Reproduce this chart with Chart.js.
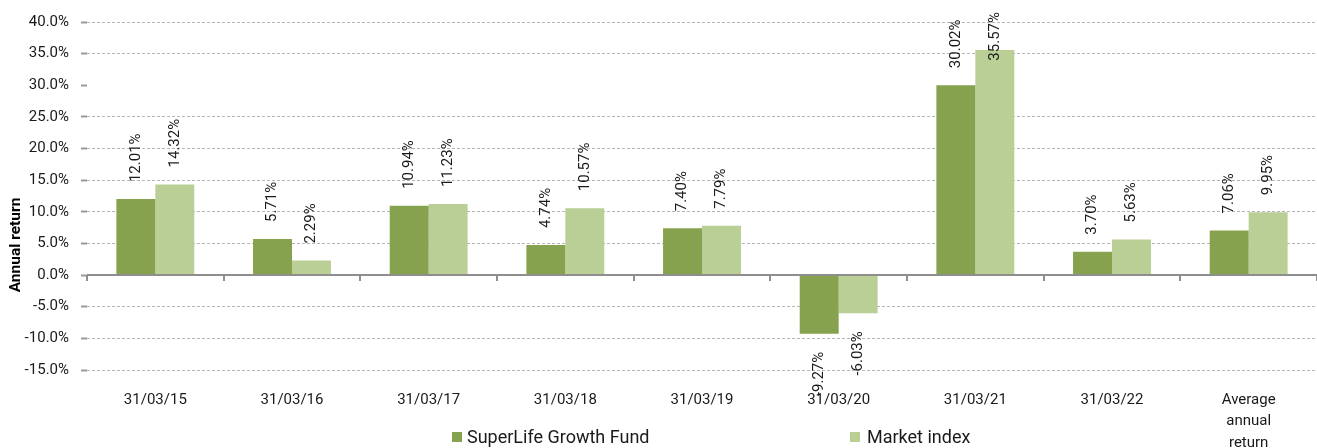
<!DOCTYPE html>
<html>
<head>
<meta charset="utf-8">
<script src="https://cdn.jsdelivr.net/npm/chart.js@4.4.1/dist/chart.umd.min.js"></script>
<style>
  html, body { margin: 0; padding: 0; background: #fff; }
  #wrap { width: 1317px; height: 448px; position: relative; }
</style>
</head>
<body>
<div id="wrap"><canvas id="c" width="1317" height="448"></canvas></div>
<script>
const categories = ['31/03/15', '31/03/16', '31/03/17', '31/03/18', '31/03/19', '31/03/20', '31/03/21', '31/03/22', ['Average', 'annual', 'return']];
const fundValues = [12.01, 5.71, 10.94, 4.74, 7.40, -9.27, 30.02, 3.70, 7.06];
const indexValues = [14.32, 2.29, 11.23, 10.57, 7.79, -6.03, 35.57, 5.63, 9.95];
const seriesNames = ['SuperLife Growth Fund', 'Market index'];
const yTicks = [-15, -10, -5, 0, 5, 10, 15, 20, 25, 30, 35, 40];
const yTitle = 'Annual return';

const FONT = 'Roboto, "Liberation Sans", Arial, sans-serif';
const C_FUND = '#87a24f';
const C_INDEX = '#b9cf95';

const decoPlugin = {
  id: 'deco',
  afterDatasetsDraw(chart) {
    const ctx = chart.ctx;
    const area = chart.chartArea;
    const y = chart.scales.y;
    const y0 = y.getPixelForValue(0);
    ctx.save();
    // zero line
    ctx.strokeStyle = '#8e8e8e';
    ctx.lineWidth = 2;
    ctx.beginPath();
    ctx.moveTo(area.left, y0);
    ctx.lineTo(area.right, y0);
    ctx.stroke();
    // category boundary ticks
    const n = categories.length;
    const w = (area.right - area.left) / n;
    for (let i = 0; i <= n; i++) {
      const px = Math.round(area.left + i * w);
      ctx.beginPath();
      ctx.moveTo(px, y0);
      ctx.lineTo(px, y0 + 6);
      ctx.stroke();
    }
    // data labels
    ctx.fillStyle = '#1a1a1a';
    ctx.font = '15px ' + FONT;
    ctx.textBaseline = 'middle';
    chart.data.datasets.forEach((ds, di) => {
      const meta = chart.getDatasetMeta(di);
      meta.data.forEach((bar, i) => {
        const v = ds.data[i];
        const txt = v.toFixed(2) + '%';
        const tw = ctx.measureText(txt).width;
        ctx.save();
        if (v >= 0) {
          let ay = bar.y - 17;
          if (ay - tw < 12) ay = 12 + tw;
          ctx.translate(bar.x, ay);
          ctx.rotate(-Math.PI / 2);
          ctx.textAlign = 'left';
        } else {
          const ay = bar.y + 18;
          ctx.translate(bar.x, ay);
          ctx.rotate(-Math.PI / 2);
          ctx.textAlign = 'right';
        }
        ctx.fillText(txt, 0, 0);
        ctx.restore();
      });
    });
    ctx.restore();
  },
  afterDraw(chart) {
    const ctx = chart.ctx;
    ctx.save();
    // y axis title
    ctx.fillStyle = '#000';
    ctx.font = 'bold 15.5px ' + FONT;
    ctx.textAlign = 'center';
    ctx.textBaseline = 'middle';
    ctx.save();
    ctx.translate(16, 245);
    ctx.rotate(-Math.PI / 2);
    ctx.fillText(yTitle, 0, 0);
    ctx.restore();
    // legend
    const items = [
      { color: C_FUND, text: seriesNames[0], bx: 452, tx: 467 },
      { color: C_INDEX, text: seriesNames[1], bx: 850, tx: 867 }
    ];
    ctx.font = '18px ' + FONT;
    ctx.textBaseline = 'middle';
    ctx.textAlign = 'left';
    items.forEach(it => {
      ctx.fillStyle = it.color;
      ctx.fillRect(it.bx, 432, 10, 10);
      ctx.fillStyle = '#1a1a1a';
      ctx.fillText(it.text, it.tx, 438);
    });
    ctx.restore();
  }
};

new Chart(document.getElementById('c'), {
  type: 'bar',
  data: {
    labels: categories,
    datasets: [
      { label: seriesNames[0], data: fundValues, backgroundColor: C_FUND, borderWidth: 0 },
      { label: seriesNames[1], data: indexValues, backgroundColor: C_INDEX, borderWidth: 0 }
    ]
  },
  options: {
    responsive: false,
    animation: false,
    devicePixelRatio: 1,
    categoryPercentage: 0.57,
    barPercentage: 1.0,
    layout: { padding: { top: 22, left: 0, right: 0, bottom: 0 } },
    plugins: {
      legend: { display: false },
      tooltip: { enabled: false }
    },
    scales: {
      x: {
        afterFit(s) { s.height = 78; },
        grid: { display: false, drawTicks: false },
        border: { display: false },
        ticks: {
          autoSkip: false,
          maxRotation: 0,
          padding: 19,
          color: '#1a1a1a',
          font: { family: FONT, size: 15, lineHeight: 1.45 }
        }
      },
      y: {
        min: -15,
        max: 40,
        afterFit(s) { s.width = 87; },
        afterBuildTicks(s) { s.ticks = yTicks.map(v => ({ value: v })); },
        border: { display: false, dash: [3, 2] },
        grid: {
          color: c => (c.tick && (c.tick.value === 0 || c.tick.value === 30)) ? 'rgba(0,0,0,0)' : '#b5b5b5',
          lineWidth: 1,
          tickColor: '#9a9a9a',
          tickLength: 6,
          tickWidth: 2,
          tickBorderDash: []
        },
        ticks: {
          padding: 12,
          color: '#1a1a1a',
          font: { family: FONT, size: 15 },
          callback: v => Number(v).toFixed(1) + '%'
        },
        title: { display: false }
      }
    }
  },
  plugins: [decoPlugin]
});
</script>
</body>
</html>
